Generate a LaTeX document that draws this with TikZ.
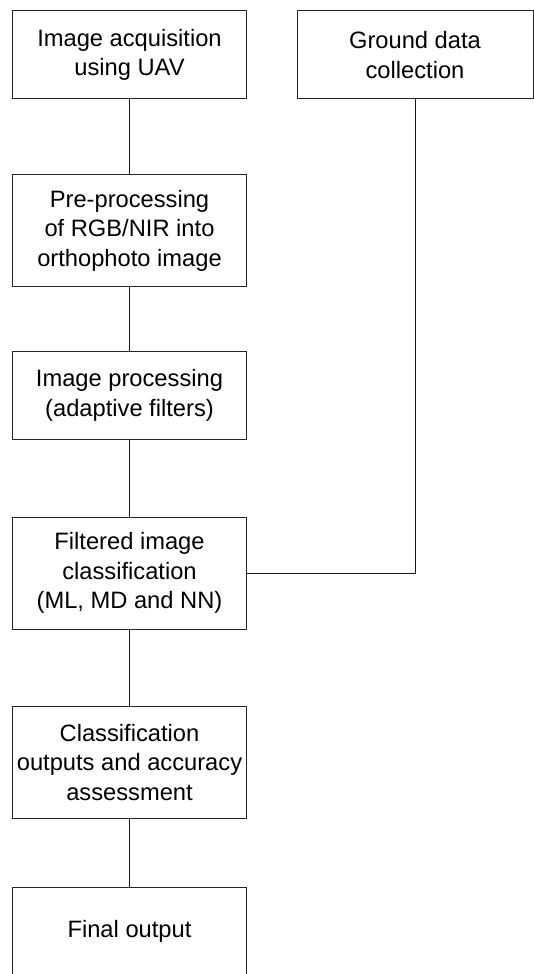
\documentclass[tikz,border=0pt]{standalone}
\usepackage{fontspec}
\setmainfont{Liberation Sans}
\begin{document}
\begin{tikzpicture}[x=1pt,y=-1pt,
  box/.style={draw=black!85, line width=1pt, rectangle, minimum width=234pt, inner sep=0pt,
    align=center, font=\fontsize{23.7pt}{29.5pt}\selectfont},
  link/.style={draw=black!90, line width=1pt}]
\clip (0,0) rectangle (534,974);
\fill[white] (0,0) rectangle (534,974);
\node[box, minimum height=88.3pt] (acq) at (129.5,54.8) {Image acquisition\\using UAV};
\node[box, minimum width=236pt, minimum height=88.3pt] (ground) at (415,54.8) {Ground data\\collection};
\node[box, minimum height=111.7pt] (pre) at (129.5,230.8) {Pre-processing\\of RGB/NIR into\\orthophoto image};
\node[box, minimum height=88.3pt] (proc) at (129.5,395.2) {Image processing\\(adaptive filters)};
\node[box, minimum height=112pt] (cls) at (129.5,573.3) {Filtered image\\classification\\(ML, MD and NN)};
\node[box, minimum height=112.3pt] (out) at (129.5,762.2) {Classification\\outputs and accuracy\\assessment};
\node[box, minimum height=88pt] (fin) at (129.5,931.7) {Final output};
\draw[link] (acq) -- (pre);
\draw[link] (pre) -- (proc);
\draw[link] (proc) -- (cls);
\draw[link] (cls) -- (out);
\draw[link] (out) -- (fin);
\draw[link] (ground.south) -- (ground.south |- cls.east) -- (cls.east);
\end{tikzpicture}
\end{document}
